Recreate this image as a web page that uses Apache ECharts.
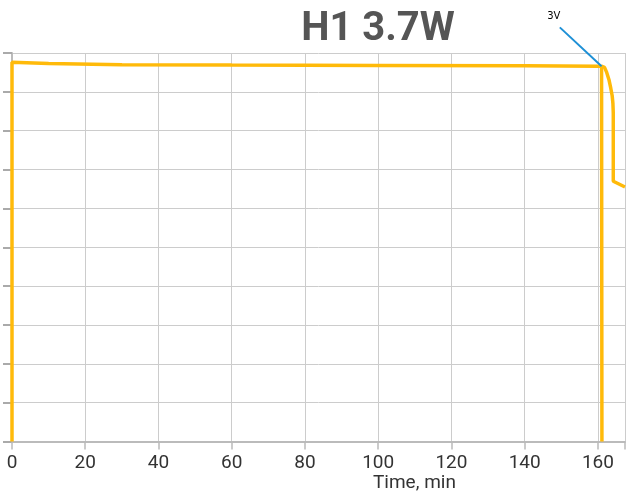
<!DOCTYPE html>
<html>
<head>
<meta charset="utf-8">
<script src="https://cdn.jsdelivr.net/npm/echarts@6/dist/echarts.min.js"></script>
<style>html,body{margin:0;padding:0;background:#fff}#c{width:628px;height:500px}</style>
</head>
<body>
<div id="c"></div>
<script>
// Data (time in minutes, relative output %)
const mainTime  = [0, 0, 10, 30, 60, 100, 140, 160, 161.0, 161.1];
const mainValue = [0, 97.6, 97.3, 97.0, 96.9, 96.8, 96.7, 96.6, 96.6, 0];
const tailTime  = [161.0, 161.8, 162.4, 163.0, 163.5, 163.9, 164.1, 164.2, 164.2, 167.4];
const tailValue = [96.6, 96.3, 95.0, 93.2, 91.0, 89.0, 87.0, 84.5, 67.0, 65.5];
const xTicks = [0, 20, 40, 60, 80, 100, 120, 140, 160];
const annoLabel = '3V';
const annoFrom = [149.6, 106.6];
const annoTo = [161.0, 96.6];

const zip = (a, b) => a.map((v, i) => [v, b[i]]);
const chart = echarts.init(document.getElementById('c'));
const col = '#FFBA0A';
chart.setOption({
  animation: false,
  title: {
    text: 'H1 3.7W', left: 373, top: 5, textAlign: 'center',
    textStyle: {fontFamily: 'Roboto', fontWeight: 'bold', fontSize: 40, color: '#555'}
  },
  grid: {left: 12, right: 0, top: 53, bottom: 58.5},
  xAxis: {
    type: 'value', min: 0, max: 167.4, interval: 20,
    axisLine: {lineStyle: {color: '#bbb', width: 2}},
    axisTick: {show: true, length: 8, lineStyle: {color: '#bbb', width: 1.5}},
    axisLabel: {fontFamily: 'Roboto', fontSize: 19, color: '#333', margin: 12,
      formatter: v => xTicks.indexOf(v) >= 0 ? String(v) : ''},
    splitLine: {lineStyle: {color: '#ccc', width: 1}}
  },
  yAxis: {
    type: 'value', min: 0, max: 100, interval: 10,
    axisLine: {show: true, lineStyle: {color: '#bbb', width: 2}},
    axisTick: {show: true, length: 9, lineStyle: {color: '#aaa', width: 2}},
    axisLabel: {show: false},
    splitLine: {lineStyle: {color: '#ccc', width: 1}}
  },
  series: [
    {type: 'line', data: zip(mainTime, mainValue), symbol: 'none', z: 3,
     lineStyle: {color: col, width: 3.5}},
    {type: 'line', data: zip(tailTime, tailValue), symbol: 'none', z: 3,
     lineStyle: {color: col, width: 3.5}}
  ]
});
const p0 = chart.convertToPixel({gridIndex: 0}, annoFrom);
const p1 = chart.convertToPixel({gridIndex: 0}, annoTo);
chart.setOption({
  graphic: [
    {type: 'text', left: 373, top: 474,
     style: {text: 'Time, min', fontFamily: 'Roboto', fontSize: 19, fill: '#333'}},
    {type: 'line', z: 10, shape: {x1: p0[0], y1: p0[1], x2: p1[0], y2: p1[1]},
     style: {stroke: '#1E90D6', lineWidth: 2}},
    {type: 'text', z: 10, x: p0[0] - 6, y: p0[1] - 6,
     style: {text: annoLabel, fontFamily: 'DejaVu Sans', fontSize: 10, fill: '#000',
       align: 'center', verticalAlign: 'bottom'}}
  ]
});
</script>
</body>
</html>
